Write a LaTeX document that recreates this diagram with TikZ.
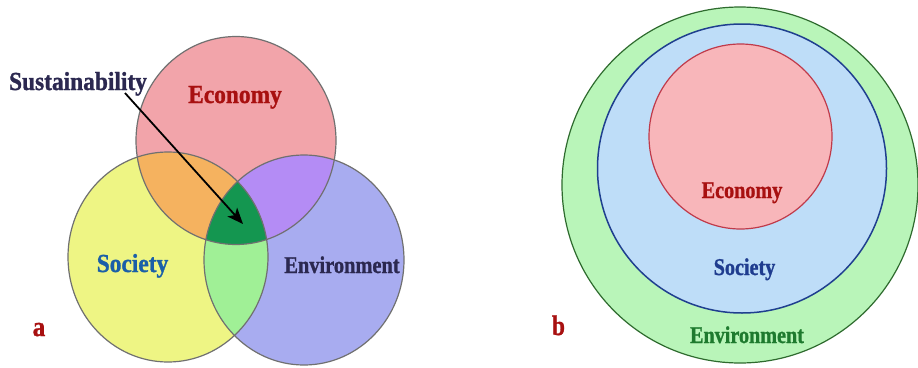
\documentclass[tikz,border=0pt]{standalone}
\usepackage{fontspec}
\setmainfont{Liberation Serif}
\newfontfamily\heavyserif{Liberation Serif Bold}[FakeBold=1.2]
\usetikzlibrary{arrows.meta}
\definecolor{econfill}{HTML}{F2A4AA}
\definecolor{socfill}{HTML}{EEF584}
\definecolor{envfill}{HTML}{A8ACF0}
\definecolor{orangefill}{HTML}{F5B25F}
\definecolor{purplefill}{HTML}{B48CF5}
\definecolor{lgreenfill}{HTML}{A0F096}
\definecolor{dgreenfill}{HTML}{149650}
\definecolor{venngray}{HTML}{707070}
\definecolor{econtext}{HTML}{A81010}
\definecolor{soctext}{HTML}{1A5FA8}
\definecolor{navytext}{HTML}{2B2850}
\definecolor{soctextb}{HTML}{1F3C8F}
\definecolor{envtextb}{HTML}{1E7A2E}
\definecolor{outerfill}{HTML}{B9F5B9}
\definecolor{outerline}{HTML}{2E6B2E}
\definecolor{midfill}{HTML}{BEDDF8}
\definecolor{midline}{HTML}{1F3F8F}
\definecolor{innerfill}{HTML}{F8B6BA}
\definecolor{innerline}{HTML}{C03A4A}
\tikzset{
  vennline/.style={draw=venngray, line width=1.2pt},
  lbl/.style={anchor=base, inner sep=0pt, font=\heavyserif},
}
\newcommand{\txt}[3]{\scalebox{#2}[1]{\fontsize{#1}{#1}\selectfont #3}}
\begin{document}
\begin{tikzpicture}[x=1pt,y=-1pt]
\useasboundingbox (0,0) rectangle (918,367);
\fill[white] (0,0) rectangle (918,367);
% ---------- panel a ----------
\def\econ{(236,140.5) ellipse [x radius=100pt, y radius=104pt]}
\def\soc{(168,257) ellipse [x radius=100pt, y radius=105pt]}
\def\env{(304,260) ellipse [x radius=100pt, y radius=105pt]}
\fill[econfill] \econ;
\fill[socfill] \soc;
\fill[envfill] \env;
\begin{scope}
  \clip \econ; \fill[orangefill] \soc;
\end{scope}
\begin{scope}
  \clip \econ; \fill[purplefill] \env;
\end{scope}
\begin{scope}
  \clip \soc; \fill[lgreenfill] \env;
\end{scope}
\begin{scope}
  \clip \econ; \clip \soc; \fill[dgreenfill] \env;
\end{scope}
\draw[vennline] \econ;
\draw[vennline] \soc;
\draw[vennline] \env;
\node[lbl, text=navytext] (sust) at (78,90) {\txt{26}{0.9}{Sustainability}};
\node[lbl, text=econtext] (econa) at (235,103) {\txt{26}{0.9}{Economy}};
\node[lbl, text=soctext] (soca) at (132.5,272) {\txt{26}{0.9}{Society}};
\node[lbl, text=navytext] (enva) at (342,273) {\txt{24}{0.85}{Environment}};
\node[lbl, text=econtext] (la) at (39,336) {\txt{28}{0.9}{a}};
\coordinate (arrstart) at (125,93);
\coordinate (arrend) at (243,224);
\draw[line width=1.8pt, -{Stealth[length=16pt,width=13pt,inset=4pt]}] (arrstart) -- (arrend);
% ---------- panel b ----------
\draw[fill=outerfill, draw=outerline, line width=1.2pt] (740,185) circle [radius=178pt];
\draw[fill=midfill, draw=midline, line width=1.5pt] (742,168.5) circle [radius=144.5pt];
\draw[fill=innerfill, draw=innerline, line width=1.2pt] (740.5,136.5) ellipse [x radius=91.5pt, y radius=92.5pt];
\node[lbl, text=econtext] (econb) at (742,198) {\txt{24}{0.84}{Economy}};
\node[lbl, text=soctextb] (socb) at (744.5,275) {\txt{24}{0.84}{Society}};
\node[lbl, text=envtextb] (envb) at (747,343) {\txt{24}{0.84}{Environment}};
\node[lbl, text=econtext] (lb) at (558.5,335) {\txt{28}{0.83}{b}};
\end{tikzpicture}
\end{document}
